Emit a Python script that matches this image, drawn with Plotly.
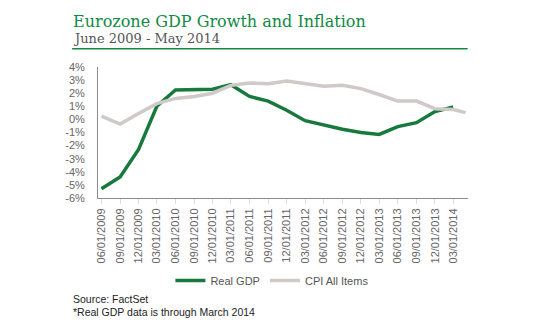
import plotly.graph_objects as go

# ---- data ----
gdp_dates = ["2009-06-01", "2009-09-01", "2009-12-01", "2010-03-01", "2010-06-01",
             "2010-09-01", "2010-12-01", "2011-03-01", "2011-06-01", "2011-09-01",
             "2011-12-01", "2012-03-01", "2012-06-01", "2012-09-01", "2012-12-01",
             "2013-03-01", "2013-06-01", "2013-09-01", "2013-12-01", "2014-03-01"]
gdp_values = [-5.3, -4.4, -2.3, 1.0, 2.25, 2.25, 2.3, 2.65, 1.75, 1.4,
              0.7, -0.1, -0.45, -0.75, -1.0, -1.15, -0.55, -0.25, 0.6, 0.95]

cpi_dates = gdp_dates + ["2014-05-01"]
cpi_values = [0.25, -0.35, 0.45, 1.2, 1.6, 1.75, 2.0, 2.6, 2.78, 2.72,
              2.93, 2.73, 2.53, 2.6, 2.35, 1.9, 1.4, 1.4, 0.82, 0.75, 0.52]

y_tick_vals = [4, 3, 2, 1, 0, -1, -2, -3, -4, -5, -6]
y_tick_text = ["4%", "3%", "2%", "1%", "0%", "-1%", "-2%", "-3%", "-4%", "-5%", "-6%"]

x_tick_vals = gdp_dates
x_tick_text = ["06/01/2009", "09/01/2009", "12/01/2009", "03/01/2010", "06/01/2010",
               "09/01/2010", "12/01/2010", "03/01/2011", "06/01/2011", "09/01/2011",
               "12/01/2011", "03/01/2012", "06/01/2012", "09/01/2012", "12/01/2012",
               "03/01/2013", "06/01/2013", "09/01/2013", "12/01/2013", "03/01/2014"]

title_text = "Eurozone GDP Growth and Inflation"
subtitle_text = "June 2009 - May 2014"
notes = ["Source: FactSet", "*Real GDP data is through March 2014"]

GREEN = "#177a3c"
TITLE_GREEN = "#108a43"
GREY_LINE = "#cfc9c7"

fig = go.Figure()
fig.add_trace(go.Scatter(x=gdp_dates, y=gdp_values, mode="lines", name="Real GDP",
                         line=dict(color=GREEN, width=3.5)))
fig.add_trace(go.Scatter(x=cpi_dates, y=cpi_values, mode="lines", name="CPI All Items",
                         line=dict(color=GREY_LINE, width=3.5)))

# plot area: x 98..468, y 66.7..197.7 px
fig.update_layout(
    width=540, height=330,
    margin=dict(l=98, r=72, t=67, b=132, pad=0),
    paper_bgcolor="white", plot_bgcolor="white",
    showlegend=True,
    font=dict(family="Liberation Sans, Arial, sans-serif", size=11, color="#666666"),
    legend=dict(orientation="h", x=0.47, xanchor="center", y=-0.63, yanchor="middle",
                font=dict(size=11, color="#555555"), itemwidth=30,
                bgcolor="rgba(0,0,0,0)"),
    xaxis=dict(type="date", range=["2009-05-15", "2014-05-13"],
               tickmode="array", tickvals=x_tick_vals, ticktext=x_tick_text,
               tickangle=-90, showgrid=False, zeroline=False,
               showline=True, linecolor="#8c8c8c", linewidth=1,
               ticks="outside", ticklen=5, tickcolor="#dddddd",
               tickfont=dict(size=11, color="#666666")),
    yaxis=dict(range=[-6, 4], tickmode="array", tickvals=y_tick_vals, ticktext=y_tick_text,
               showgrid=False, zeroline=False, showline=True, linecolor="#8c8c8c",
               linewidth=1, ticks="", ticklabelstandoff=10,
               tickfont=dict(size=11, color="#666666")),
)

annotations = [
    dict(text=title_text, xref="paper", yref="paper", x=-0.073, y=1.35,
         xanchor="left", yanchor="middle", showarrow=False,
         font=dict(family="DejaVu Serif, Georgia, serif", size=16, color=TITLE_GREEN)),
    dict(text=subtitle_text, xref="paper", yref="paper", x=-0.073, y=1.22,
         xanchor="left", yanchor="middle", showarrow=False,
         font=dict(family="DejaVu Serif, Georgia, serif", size=13, color="#555555")),
    dict(text=notes[0], xref="paper", yref="paper", x=-0.073, y=-0.773,
         xanchor="left", yanchor="middle", showarrow=False,
         font=dict(size=10.5, color="#222222")),
    dict(text=notes[1], xref="paper", yref="paper", x=-0.073, y=-0.87,
         xanchor="left", yanchor="middle", showarrow=False,
         font=dict(size=10.5, color="#222222")),
]
fig.update_layout(annotations=annotations)
fig.add_shape(type="line", xref="paper", yref="paper", x0=-0.07, x1=0.999,
              y0=1.14, y1=1.14, line=dict(color=TITLE_GREEN, width=1.5))

fig.write_html("out.html")
